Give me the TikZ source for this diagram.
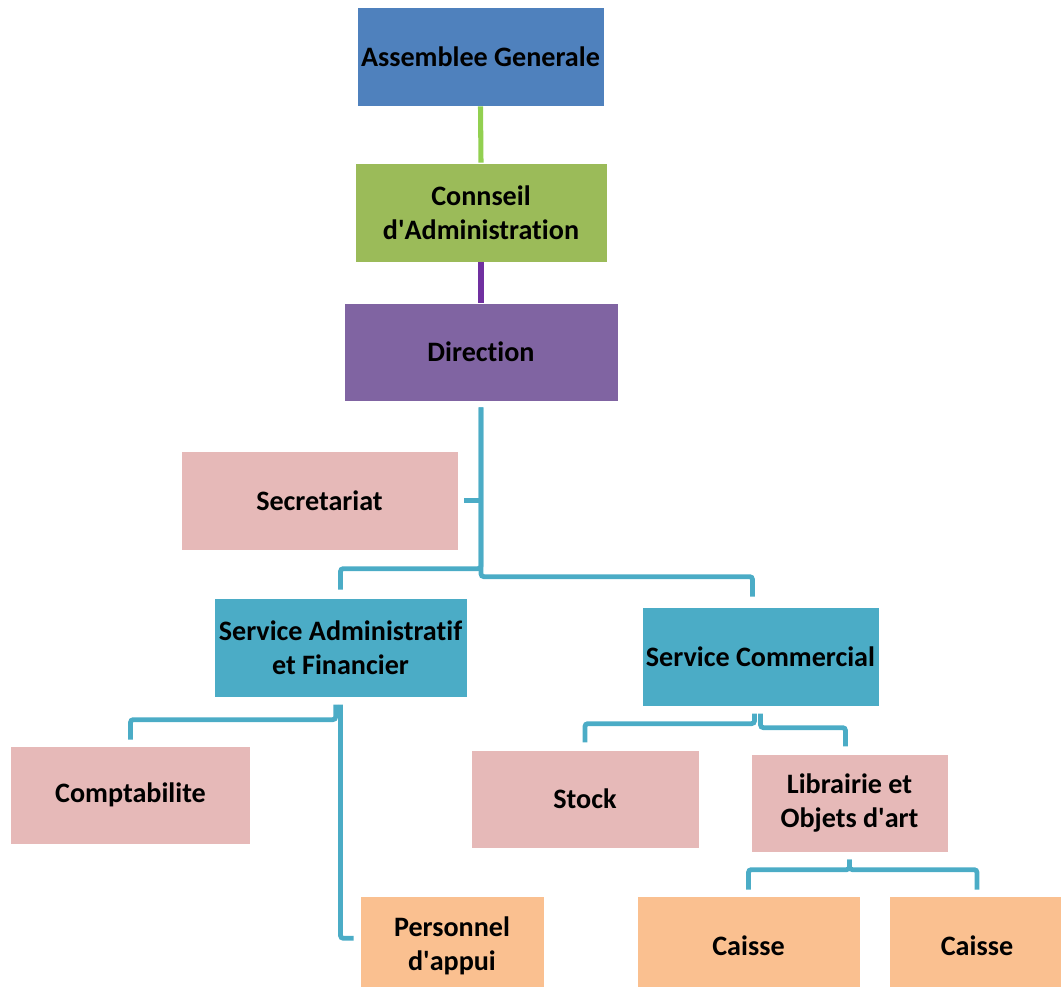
\documentclass[tikz,border=0pt]{standalone}
\usepackage{fontspec}
\setmainfont{Carlito}[Ligatures=NoCommon]
\usetikzlibrary{calc,positioning}
\definecolor{orgblue}{RGB}{79,129,189}
\definecolor{orggreen}{RGB}{155,187,89}
\definecolor{orgpurple}{RGB}{128,100,162}
\definecolor{orgpink}{RGB}{230,185,184}
\definecolor{orgteal}{RGB}{75,172,198}
\definecolor{orgorange}{RGB}{250,192,144}
\definecolor{orglime}{RGB}{146,208,80}
\definecolor{orgviolet}{RGB}{112,48,160}

\begin{document}
\begin{tikzpicture}[
    x=0.025cm, y=-0.025cm,
    unit/.style={
        draw=white,
        line width=0.5pt,
        minimum height=2.475cm,
        inner sep=2pt,
        align=center,
        font=\fontsize{20}{24}\selectfont\bfseries
    },
    link/.style={draw=orgteal, line width=3.4pt, rounded corners=2pt},
    stub/.style={line width=3.6pt}
]
\useasboundingbox (0,0) rectangle (1061,987);

% Top of the chart.
\node[unit, fill=orgblue, minimum width=6.175cm] (ag) at (480.5,56.5) {Assemblee Generale};
\node[unit, fill=orggreen, minimum width=6.3cm] (ca) at (481,212.5) {Connseil\\d\textquotesingle Administration};
\node[unit, fill=orgpurple, minimum width=6.85cm, minimum height=2.45cm] (dir) at (481,352) {Direction};
\draw[stub, orglime] (ag.south) -- (ca.north);
\draw[stub, orgviolet] (ca.south) -- (dir.north);

% Second level.
\node[unit, fill=orgpink, minimum width=6.925cm] (sec) at (319.5,500.5) {Secretariat};
\node[unit, fill=orgteal, minimum width=6.325cm] (saf) at (340.5,647.5) {Service Administratif\\et Financier};
\node[unit, fill=orgteal, minimum width=5.925cm] (sc) at (760.5,656.5) {Service Commercial};

\draw[link] ([xshift=0.15cm]sec.east) -- (sec.east -| dir.south);
\draw[link] ([yshift=-0.15cm]dir.south) |- ($(saf.north)+(0,-29)$) -- ([yshift=0.2cm]saf.north);
\draw[link] ([yshift=-0.15cm]dir.south) |- ($(sc.north)+(-8,-30)$) -- ([xshift=-0.2cm,yshift=0.25cm]sc.north);

% Under the administrative service.
\node[unit, fill=orgpink, minimum width=6cm, minimum height=2.45cm] (comp) at (130.5,795) {Comptabilite};
\node[unit, fill=orgorange, minimum width=4.6cm] (pers) at (452,945.5) {Personnel\\d\textquotesingle appui};

\draw[link] ([xshift=-0.12cm,yshift=-0.18cm]saf.south) |- ($(comp.north)+(0,-26)$) -- ([yshift=0.15cm]comp.north);
\draw[link] ([yshift=-0.18cm]saf.south) |- ([xshift=-0.15cm,yshift=0.18cm]pers.west);

% Under the commercial service.
\node[unit, fill=orgpink, minimum width=5.7cm, minimum height=2.45cm] (stock) at (585,799) {Stock};
\node[unit, fill=orgpink, minimum width=4.925cm, minimum height=2.45cm] (lib) at (849.5,803) {Librairie et\\Objets d\textquotesingle art};

\draw[link] ([xshift=-0.15cm,yshift=-0.18cm]sc.south) |- ($(stock.north)+(0,-26)$) -- ([yshift=0.18cm]stock.north);
\draw[link] ([yshift=-0.18cm]sc.south) |- ($(lib.north)+(-4,-26)$) -- ([xshift=-0.1cm,yshift=0.18cm]lib.north);

% Under the bookshop.
\node[unit, fill=orgorange, minimum width=5.575cm] (cai1) at (748.5,945.5) {Caisse};
\node[unit, fill=orgorange, minimum width=4.4cm] (cai2) at (977,945.5) {Caisse};

\draw[link] ([yshift=-0.18cm]lib.south) |- ($(cai1.north)+(0,-26)$) -- ([yshift=0.15cm]cai1.north);
\draw[link] ([yshift=-0.18cm]lib.south) |- ($(cai2.north)+(0,-26)$) -- ([yshift=0.15cm]cai2.north);

\end{tikzpicture}
\end{document}
